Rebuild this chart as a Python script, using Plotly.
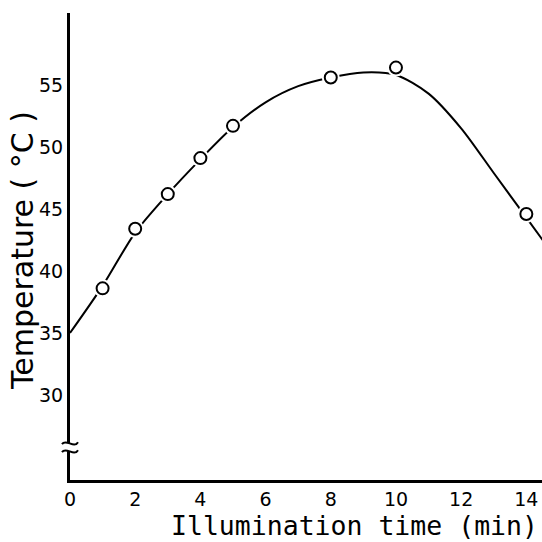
import plotly.graph_objects as go

# Measured points (open circles)
times = [1, 2, 3, 4, 5, 8, 10, 14]
temps = [38.6, 43.4, 46.2, 49.1, 51.7, 55.6, 56.4, 44.6]

# Smooth drawn curve
curve_x = [0, 1, 2, 3, 4, 5, 6, 7, 8, 9, 10, 11, 12, 13, 14, 15]
curve_y = [35, 38.8, 43.1, 46.2, 49.0, 51.6, 53.6, 54.9, 55.6, 56.0, 55.8, 54.3, 51.5, 47.9, 44.3, 40.7]

x_ticks = [0, 2, 4, 6, 8, 10, 12, 14]
y_ticks = [30, 35, 40, 45, 50, 55]
break_y = 25.8

fig = go.Figure()
fig.add_trace(go.Scatter(x=curve_x, y=curve_y, mode="lines",
                         line=dict(color="black", width=2, shape="spline", smoothing=0.8),
                         cliponaxis=True, showlegend=False, hoverinfo="skip"))
# white halo to create small gaps between curve and circles
fig.add_trace(go.Scatter(x=times, y=temps, mode="markers",
                         marker=dict(size=18, color="white", line=dict(width=0)),
                         showlegend=False, hoverinfo="skip"))
fig.add_trace(go.Scatter(x=times, y=temps, mode="markers",
                         marker=dict(size=12, color="white", line=dict(color="black", width=2)),
                         showlegend=False))

fig.update_layout(
    width=542, height=542,
    margin=dict(l=70, r=0, t=13, b=62),
    paper_bgcolor="white", plot_bgcolor="white",
    font=dict(family="DejaVu Sans", color="black"),
    xaxis=dict(range=[0, 14.48], tickvals=x_ticks, ticktext=[str(v) for v in x_ticks],
               showgrid=False, zeroline=False, showline=True, linecolor="black", linewidth=3,
               ticks="", tickfont=dict(size=19, family="DejaVu Sans"), ticklabelstandoff=0),
    yaxis=dict(range=[23.15, 60.8], tickvals=y_ticks, ticktext=[str(v) for v in y_ticks],
               showgrid=False, zeroline=False, showline=True, linecolor="black", linewidth=3,
               ticks="", tickfont=dict(size=19, family="DejaVu Sans"), ticklabelstandoff=0),
    annotations=[
        dict(text="Illumination time (min)", xref="paper", yref="paper", x=0.6017, y=-0.0985,
             showarrow=False, font=dict(family="DejaVu Sans Mono", size=26.5, color="black"),
             xanchor="center", yanchor="middle"),
        dict(text="Temperature ( °C )", xref="paper", yref="paper", x=-0.1017, y=0.4925,
             textangle=-90, showarrow=False, font=dict(family="DejaVu Sans", size=30, color="black"),
             xanchor="center", yanchor="middle"),
    ],
)

# axis break on the y axis
fig.add_shape(type="rect", xref="paper", yref="y", xsizemode="pixel", ysizemode="pixel",
              xanchor=0, yanchor=break_y, x0=-4, x1=4, y0=-4, y1=4,
              fillcolor="white", line=dict(width=0), layer="above")
for dy in (4, -4):
    fig.add_shape(type="path", xref="paper", yref="y", xsizemode="pixel", ysizemode="pixel",
                  xanchor=0, yanchor=break_y,
                  path=f"M-8,{dy-1} C-4,{dy+5} 4,{dy-6} 8,{dy+1}",
                  line=dict(color="black", width=2), layer="above")

fig.write_html("out.html")
